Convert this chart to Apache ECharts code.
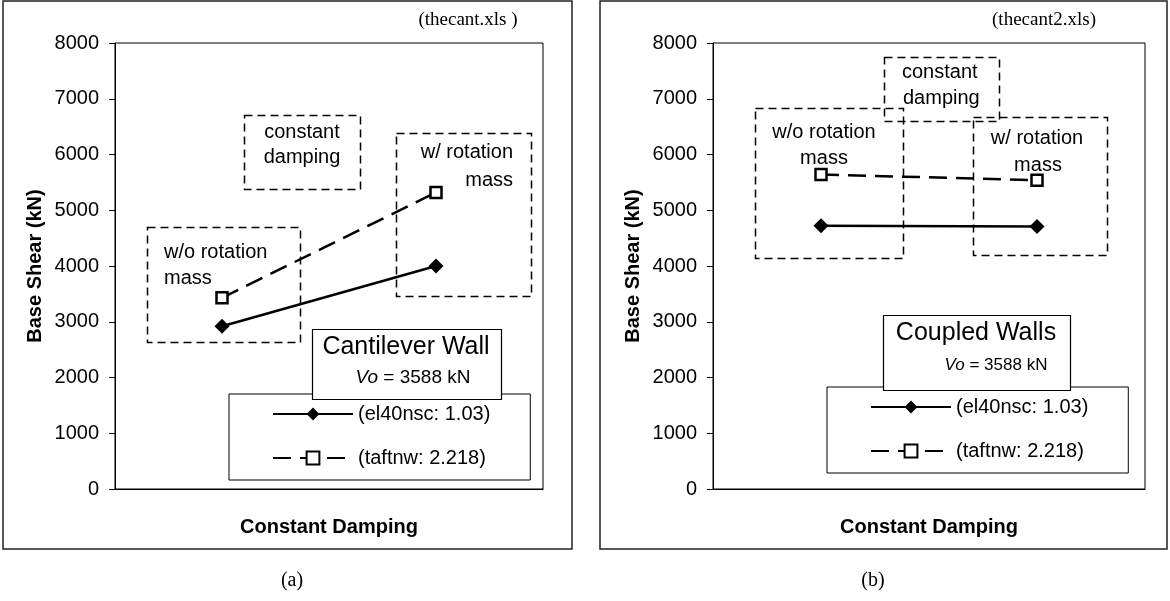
<!DOCTYPE html>
<html>
<head>
<meta charset="utf-8">
<script src="https://cdn.jsdelivr.net/npm/echarts@6/dist/echarts.min.js"></script>
<style>
html,body{margin:0;padding:0;background:#fff;}
#c{width:1170px;height:601px;}
</style>
</head>
<body>
<div id="c"></div>
<script>
// ---------- data ----------
const categories = ['w/o rotation mass', 'w/ rotation mass'];
const seriesNames = ['(el40nsc: 1.03)', '(taftnw: 2.218)'];
const cantileverEl40 = [2920, 4000];
const cantileverTaft = [3430, 5320];
const coupledEl40 = [4720, 4710];
const coupledTaft = [5640, 5540];
const yMin = 0, yMax = 8000, yStep = 1000;

// ---------- styles ----------
const SANS = 'Liberation Sans, Arial, Helvetica, sans-serif';
const SERIF = 'Liberation Serif, Times New Roman, serif';

function dashedBox(x, y, w, h) {
  return {type: 'rect', z: 1, silent: true,
    shape: {x: x + 0.5, y: y + 0.5, width: w, height: h},
    style: {fill: 'none', stroke: '#000', lineWidth: 1.5, lineDash: [8, 5]}};
}
function label(x, y, text, align, size, family) {
  return {type: 'text', z: 1, silent: true, x: x, y: y,
    style: {text: text, fill: '#000', fontSize: size || 20, fontFamily: family || SANS,
      align: align || 'center', verticalAlign: 'middle'}};
}
function solidBox(x, y, w, h, lw) {
  return {type: 'rect', z: 10, silent: true,
    shape: {x: x + 0.5, y: y + 0.5, width: w, height: h},
    style: {fill: '#fff', stroke: '#000', lineWidth: lw || 1.2}};
}
function voText(x, y, size) {
  return {type: 'text', z: 11, silent: true, x: x, y: y,
    style: {text: '{i|Vo} = 3588 kN', fill: '#000', fontSize: size, fontFamily: SANS,
      align: 'center', verticalAlign: 'middle',
      rich: {i: {fontStyle: 'italic', fontSize: size, fontFamily: SANS, fill: '#000'}}}};
}

function yAxisCfg(gridIndex) {
  return {
    type: 'value', gridIndex: gridIndex, min: yMin, max: yMax, interval: yStep,
    name: 'Base Shear (kN)', nameLocation: 'middle', nameGap: 70,
    nameTextStyle: {fontFamily: SANS, fontSize: 20, fontWeight: 'bold', color: '#000'},
    axisLine: {show: true, lineStyle: {color: '#000', width: 1}},
    axisTick: {show: true, length: 6, lineStyle: {color: '#000'}},
    axisLabel: {fontFamily: SANS, fontSize: 20, color: '#000', margin: 16,
      formatter: function (v) { return String(v); }},
    splitLine: {show: false}
  };
}
function xAxisCfg(gridIndex) {
  return {
    type: 'category', gridIndex: gridIndex, data: categories, boundaryGap: true,
    name: 'Constant Damping', nameLocation: 'middle', nameGap: 28,
    nameTextStyle: {fontFamily: SANS, fontSize: 20, fontWeight: 'bold', color: '#000'},
    axisLine: {show: true, lineStyle: {color: '#000', width: 1.2}},
    axisTick: {show: false},
    axisLabel: {show: false},
    splitLine: {show: false}
  };
}
function el40Series(idx, data) {
  return {name: seriesNames[0], type: 'line', xAxisIndex: idx, yAxisIndex: idx, data: data,
    symbol: 'diamond', symbolSize: 15, z: 3,
    lineStyle: {color: '#000', width: 2.5, type: 'solid'},
    itemStyle: {color: '#000'}};
}
function taftSeries(idx, data) {
  return {name: seriesNames[1], type: 'line', xAxisIndex: idx, yAxisIndex: idx, data: data,
    symbol: 'rect', symbolSize: 11, z: 3,
    lineStyle: {color: '#000', width: 2.5, type: [18, 9]},
    itemStyle: {color: '#fff', borderColor: '#000', borderWidth: 2.5}};
}
function legendCfg(left, top) {
  return {
    orient: 'vertical', left: left, top: top, data: seriesNames,
    itemWidth: 80, itemHeight: 16, itemGap: 24,
    padding: [10, 40, 12, 43],
    borderColor: '#000', borderWidth: 1, backgroundColor: '#fff',
    selectedMode: false,
    textStyle: {fontFamily: SANS, fontSize: 20, color: '#000'}
  };
}

const chart = echarts.init(document.getElementById('c'), null, {renderer: 'canvas'});
chart.setOption({
  animation: false,
  backgroundColor: '#fff',
  grid: [
    {left: 115, top: 43, width: 428, height: 446, show: true, borderColor: '#000', borderWidth: 1, backgroundColor: 'transparent'},
    {left: 713, top: 43, width: 432, height: 446, show: true, borderColor: '#000', borderWidth: 1, backgroundColor: 'transparent'}
  ],
  xAxis: [xAxisCfg(0), xAxisCfg(1)],
  yAxis: [yAxisCfg(0), yAxisCfg(1)],
  legend: [legendCfg(229, 394), legendCfg(827, 387)],
  series: [
    el40Series(0, cantileverEl40), taftSeries(0, cantileverTaft),
    el40Series(1, coupledEl40), taftSeries(1, coupledTaft)
  ],
  graphic: [
    // outer panel frames
    {type: 'rect', z: 0, silent: true, shape: {x: 3, y: 1, width: 569, height: 548},
      style: {fill: 'none', stroke: '#222', lineWidth: 1.5}},
    {type: 'rect', z: 0, silent: true, shape: {x: 600, y: 1, width: 567, height: 548},
      style: {fill: 'none', stroke: '#222', lineWidth: 1.5}},
    // file names
    label(468, 20, '(thecant.xls )', 'center', 19, SERIF),
    label(1044, 20, '(thecant2.xls)', 'center', 19, SERIF),
    // panel captions
    label(292, 581, '(a)', 'center', 20, SERIF),
    label(873, 581, '(b)', 'center', 20, SERIF),

    // left panel annotations
    dashedBox(244, 115, 116, 74),
    label(302, 132, 'constant', 'center'),
    label(302, 157, 'damping', 'center'),
    dashedBox(147, 227, 153, 115),
    label(164, 252, 'w/o rotation', 'left'),
    label(164, 278, 'mass', 'left'),
    dashedBox(396, 133, 135, 163),
    label(513, 152, 'w/ rotation', 'right'),
    label(513, 180, 'mass', 'right'),
    solidBox(312, 329, 189, 70),
    {type: 'text', z: 11, silent: true, x: 406, y: 347,
      style: {text: 'Cantilever Wall', fill: '#000', fontSize: 25, fontFamily: SANS, align: 'center', verticalAlign: 'middle'}},
    voText(413, 378, 19),

    // right panel annotations
    dashedBox(884, 57, 115, 64),
    label(902, 72, 'constant', 'left'),
    label(903, 98, 'damping', 'left'),
    dashedBox(755, 108, 148, 150),
    label(824, 132, 'w/o rotation', 'center'),
    label(824, 158, 'mass', 'center'),
    dashedBox(973, 117, 134, 138),
    label(1037, 138, 'w/ rotation', 'center'),
    label(1038, 165, 'mass', 'center'),
    solidBox(883, 315, 187, 75),
    {type: 'text', z: 11, silent: true, x: 976, y: 333,
      style: {text: 'Coupled Walls', fill: '#000', fontSize: 25, fontFamily: SANS, align: 'center', verticalAlign: 'middle'}},
    voText(996, 365, 17)
  ]
});
</script>
</body>
</html>
